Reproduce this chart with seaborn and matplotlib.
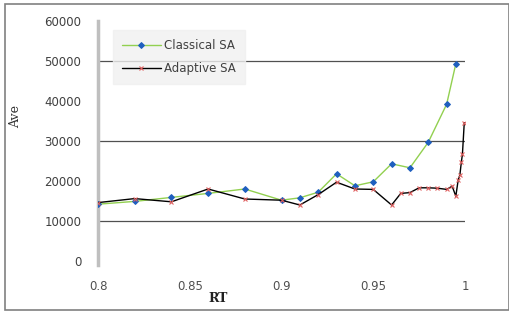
import seaborn as sns
import matplotlib.pyplot as plt
import pandas as pd
from matplotlib.patches import Rectangle

# Classical SA
rt_classical = [0.80, 0.82, 0.84, 0.86, 0.88, 0.90, 0.91, 0.92, 0.93, 0.94,
                0.95, 0.96, 0.97, 0.98, 0.99, 0.995]
ave_classical = [14200, 14900, 15900, 16900, 18000, 15200, 15800, 17200, 21800, 18800,
                 19800, 24300, 23300, 29700, 39200, 49300]

# Adaptive SA
rt_adaptive = [0.80, 0.82, 0.84, 0.86, 0.88, 0.90, 0.91, 0.92, 0.93, 0.94,
               0.95, 0.96, 0.965, 0.97, 0.975, 0.98, 0.985, 0.99, 0.993, 0.995,
               0.9963, 0.9972, 0.998, 0.9986, 0.9996]
ave_adaptive = [14600, 15600, 14800, 18000, 15500, 15200, 14000, 16600, 19700, 18000,
                17900, 14000, 16900, 17100, 18300, 18300, 18200, 17900, 18700, 16200,
                20300, 21500, 24700, 26700, 34600]

yticks = [0, 10000, 20000, 30000, 40000, 50000, 60000]
xticks = [0.8, 0.85, 0.9, 0.95, 1.0]
xtick_labels = ['0.8', '0.85', '0.9', '0.95', '1']
grid_values = [10000, 30000, 50000]

df_c = pd.DataFrame({'RT': rt_classical, 'Ave': ave_classical})
df_a = pd.DataFrame({'RT': rt_adaptive, 'Ave': ave_adaptive})

sns.set_style("white")
plt.rcParams['font.family'] = ['DejaVu Sans']

fig = plt.figure(figsize=(5.1, 3.12), dpi=100)
ax = fig.add_axes([98 / 510, 1 - 261 / 312, 367 / 510, 240 / 312])

# figure frame
fig.patches.append(Rectangle((5 / 510, 2 / 312), 504 / 510, 306 / 312,
                             transform=fig.transFigure, fill=False,
                             edgecolor='#808080', linewidth=1.2))

for g in grid_values:
    ax.axhline(g, color='#505050', linewidth=0.9, zorder=1)

sns.lineplot(x='RT', y='Ave', data=df_c, ax=ax, color='#92d050', linewidth=1.0,
             marker='D', markersize=3, markerfacecolor='#1f5fbf',
             markeredgecolor='#1f5fbf', label='Classical SA', zorder=3)
sns.lineplot(x='RT', y='Ave', data=df_a, ax=ax, color='#000000', linewidth=1.0,
             marker='x', markersize=2.8, markeredgecolor='#e06060',
             markeredgewidth=0.8, label='Adaptive SA', zorder=4)

ax.set_xlim(0.8, 1.0)
ax.set_ylim(0, 60000)
ax.set_xticks(xticks)
ax.set_xticklabels(xtick_labels)
ax.set_yticks(yticks)

for side in ['top', 'right', 'bottom']:
    ax.spines[side].set_visible(False)
ax.spines['left'].set_color('#bfbfbf')
ax.spines['left'].set_linewidth(2.5)
ax.spines['left'].set_bounds(-1000, 60000)

ax.tick_params(axis='x', direction='out', length=3, width=0.8, color='#d0d0d0',
               pad=11, labelsize=8.5, labelcolor='#505050')
ax.tick_params(axis='y', length=0, pad=12, labelsize=8.5, labelcolor='#404040')

ax.set_xlabel('RT', family='DejaVu Serif', fontsize=9, fontweight='bold', color='#202020')
ax.xaxis.set_label_coords((218 - 98) / 367, -0.13)
ax.set_ylabel('Ave', family='DejaVu Serif', fontsize=9, color='#303030')
ax.yaxis.set_label_coords((22 - 98) / 367, (261 - 117) / 240)

leg = ax.legend(loc='upper left', bbox_to_anchor=(0.041, 0.9625), borderaxespad=0,
                frameon=True, fancybox=False, fontsize=8.5, handlelength=3.3,
                labelspacing=0.9, borderpad=0.75, handletextpad=0.3)
leg.get_frame().set_facecolor('#f0f0f0')
leg.get_frame().set_edgecolor('#f0f0f0')
for t in leg.get_texts():
    t.set_color('#404040')

fig.savefig('out.png', dpi=100)
